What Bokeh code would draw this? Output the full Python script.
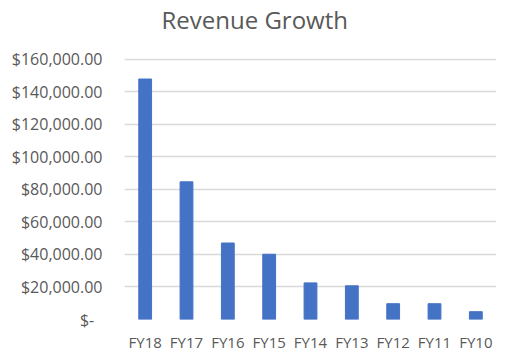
from bokeh.plotting import figure
from bokeh.models import FixedTicker, Range1d, FactorRange, Title
from bokeh.embed import file_html
from bokeh.resources import INLINE

categories = ["FY18", "FY17", "FY16", "FY15", "FY14", "FY13", "FY12", "FY11", "FY10"]
revenue = [147800, 84600, 47000, 40100, 22500, 20700, 9700, 9700, 4800]
y_ticks = [0, 20000, 40000, 60000, 80000, 100000, 120000, 140000, 160000]
y_tick_labels = ["$-\u00a0\u00a0", "$20,000.00", "$40,000.00", "$60,000.00", "$80,000.00",
                 "$100,000.00", "$120,000.00", "$140,000.00", "$160,000.00"]
title_text = "Revenue Growth"

FONT = "Open Sans"
GREY = "#595959"

p = figure(frame_width=372, frame_height=261, output_backend="svg", toolbar_location=None,
           x_range=FactorRange(*categories, range_padding=0),
           y_range=Range1d(0, 160400),
           min_border_left=124, min_border_right=1, min_border_top=58, min_border_bottom=28)

p.vbar(x=categories, top=revenue, width=0.31, color="#4472C4")

p.title.text = title_text
p.title.text_font = FONT
p.title.text_font_size = "24px"
p.title.text_font_style = "normal"
p.title.text_color = GREY
p.title.align = "left"
p.title.offset = 37
p.title.standoff = 0

# blank spacer between the title and the plot frame
p.add_layout(Title(text=" ", text_font=FONT, text_font_size="10px", standoff=7), "above")

p.outline_line_color = None
p.xgrid.grid_line_color = None
p.ygrid.grid_line_color = "#d9d9d9"
p.ygrid.grid_line_width = 1.5

p.yaxis.ticker = FixedTicker(ticks=y_ticks)
p.yaxis.major_label_overrides = {t: l for t, l in zip(y_ticks, y_tick_labels)}
p.yaxis.axis_line_color = None
p.yaxis.major_tick_line_color = None
p.yaxis.minor_tick_line_color = None
p.yaxis.major_label_text_font = FONT
p.yaxis.major_label_text_font_size = "16px"
p.yaxis.major_label_text_color = GREY
p.yaxis.major_label_standoff = 16

p.xaxis.axis_line_color = None
p.xaxis.major_tick_line_color = None
p.xaxis.minor_tick_line_color = None
p.xaxis.major_label_text_font = FONT
p.xaxis.major_label_text_font_size = "15px"
p.xaxis.major_label_text_color = GREY
p.xaxis.major_label_standoff = 6

open("out.html", "w").write(file_html(p, INLINE))
